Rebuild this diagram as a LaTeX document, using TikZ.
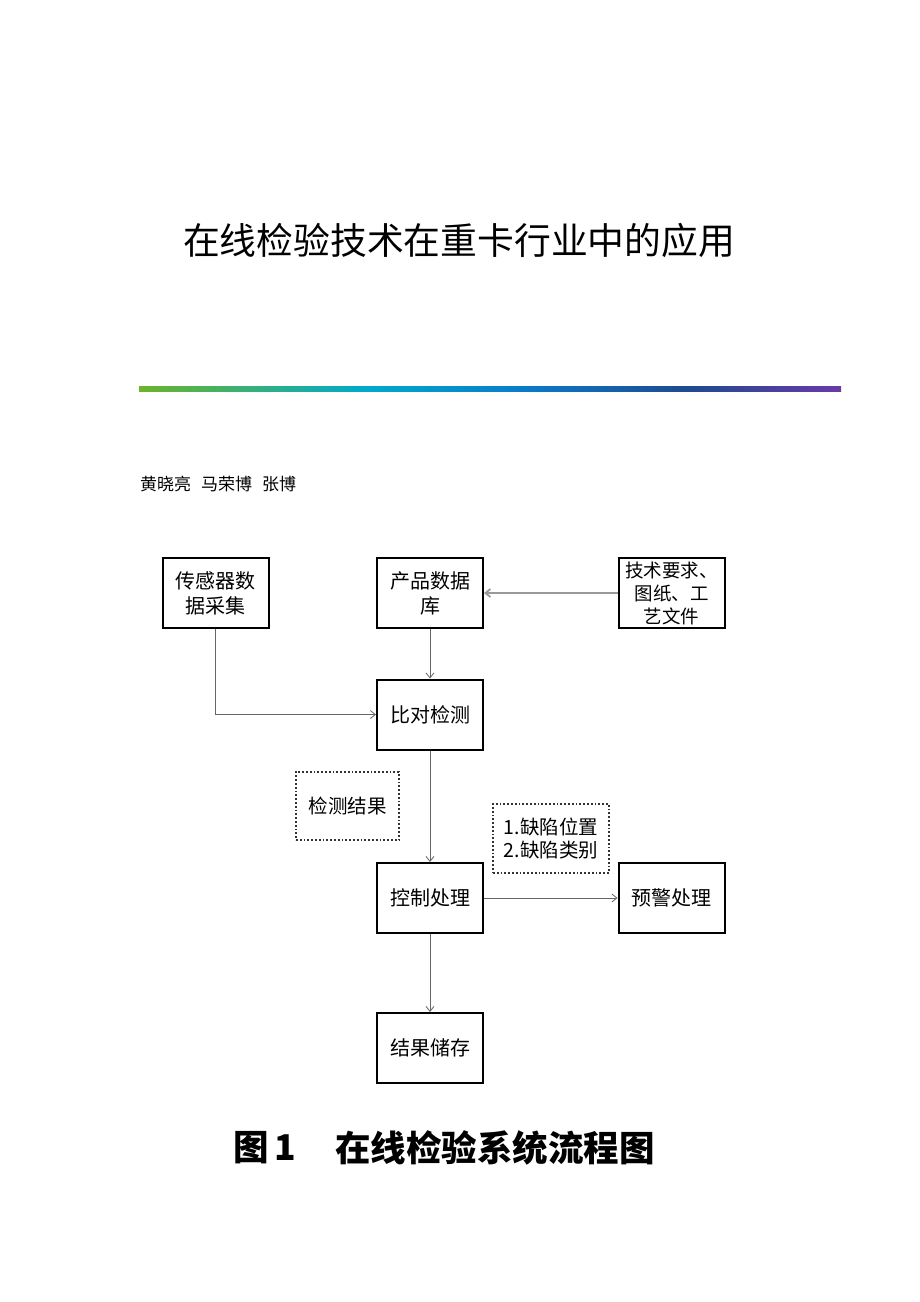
\documentclass[tikz,border=0pt]{standalone}
\usepackage{fontspec}
\newfontfamily\cjk{Noto Sans CJK SC}
\usetikzlibrary{arrows.meta}
\definecolor{gA}{HTML}{6CB42A}
\definecolor{gB}{HTML}{00AACB}
\definecolor{gC}{HTML}{0A7CCB}
\definecolor{gD}{HTML}{1E4A90}
\definecolor{gE}{HTML}{6A3AA8}
\pgfdeclarehorizontalshading{barshade}{100bp}{color(0bp)=(gA); color(25bp)=(gA); color(41bp)=(gB); color(52bp)=(gC); color(64bp)=(gD); color(75bp)=(gE); color(100bp)=(gE)}
\tikzset{
  box/.style={draw=black, line width=2pt, minimum width=106pt, minimum height=70pt, inner sep=0pt, align=center, font=\cjk\fontsize{20}{25}\selectfont},
  dotbox/.style={draw=black!80, line width=1.8pt, dotted, align=center, inner sep=0pt, font=\cjk\fontsize{19.5}{23}\selectfont},
  conn/.style={draw=black!60, line width=0.8pt, -{Straight Barb[length=5pt,width=8pt]}},
  connlight/.style={draw=black!40, line width=1.8pt, -{Straight Barb[length=5pt,width=8pt]}}
}
\begin{document}
\begin{tikzpicture}[x=1pt,y=-1pt]
\useasboundingbox (0,0) rectangle (920,1302);
\fill[white] (0,0) rectangle (920,1302);
% title
\node[font=\cjk\fontsize{36.8}{40}\selectfont, anchor=center] (title) at (459,240) {在线检验技术在重卡行业中的应用};
% gradient bar
\shade[shading=barshade] (139,386) rectangle (841,391);
% authors
\node[font=\cjk\fontsize{17}{20}\selectfont, anchor=west, inner sep=0pt] (authors) at (140,484) {黄晓亮\hspace{10pt}马荣博\hspace{10pt}张博};
% boxes
\node[box] (sensor) at (215.5,593) {传感器数\\据采集};
\node[box] (db) at (430,593) {产品数据\\库};
\node[box, font=\cjk\fontsize{18.5}{23}\selectfont] (tech) at (671.5,593) {技术要求、\\图纸、工\\艺文件};
\node[box] (cmp) at (430,714.5) {比对检测};
\node[dotbox, minimum width=103pt, minimum height=68pt] (res) at (347.5,806) {检测结果};
\node[dotbox, minimum width=116pt, minimum height=69pt] (defect) at (551,838.5) {1.缺陷位置\\2.缺陷类别};
\node[box] (ctrl) at (430,898) {控制处理};
\node[box] (warn) at (671.5,898) {预警处理};
\node[box] (store) at (430,1048) {结果储存};
% connectors
\coordinate (bend) at (sensor.south |- cmp.west);
\draw[conn] (sensor.south) -- (bend) -- (cmp.west);
\draw[conn] (db.south) -- (cmp.north);
\draw[connlight] (tech.west) -- (db.east);
\draw[conn] (cmp.south) -- (ctrl.north);
\draw[conn] (ctrl.east) -- (warn.west);
\draw[conn] (ctrl.south) -- (store.north);
% caption
\node[font=\cjk\bfseries\fontsize{35.5}{40}\selectfont, anchor=west, inner sep=0pt] (cap1) at (233,1148) {图\,1};
\node[font=\cjk\bfseries\fontsize{35.5}{40}\selectfont, anchor=west, inner sep=0pt] (cap2) at (335,1148) {在线检验系统流程图};
\end{tikzpicture}
\end{document}
